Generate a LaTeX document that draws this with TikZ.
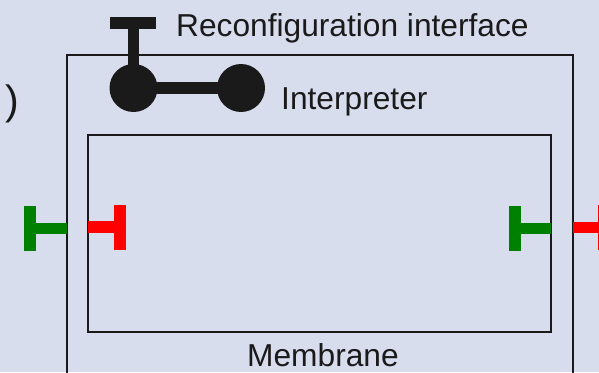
\documentclass[tikz,border=0pt]{standalone}
\usepackage{fontspec}
\setmainfont{Liberation Sans}
\definecolor{panelbg}{RGB}{216,221,238}
\definecolor{portgreen}{RGB}{0,128,0}
\definecolor{portred}{RGB}{255,0,0}
\definecolor{ink}{RGB}{26,26,26}

\begin{document}
\begin{tikzpicture}[x=1pt,y=-1pt,
  lbl/.style={font=\fontsize{31.7}{38}\selectfont, inner sep=0pt, text=ink, anchor=base west},
  box/.style={draw=ink, line width=2},
  bar/.style={line width=11.5},
  knob/.style={circle, fill=ink, minimum size=48, inner sep=0pt}]
\clip (0,0) rectangle (599,372);
\fill[panelbg] (0,0) rectangle (599,372);
% component and membrane
\draw[box] (67,55) rectangle (573,400);
\draw[box] (88,135) rectangle (551,332);
\node[lbl, font=\fontsize{41}{48}\selectfont] (paren) at (5,114) {)};
% interpreter with reconfiguration interface
\node[knob] (ctrl) at (133.5,88) {};
\node[knob] (interp) at (241,88) {};
\coordinate (reconf) at (133.5,23);
\draw[bar, ink] (ctrl.center) -- (interp.center);
\draw[bar, ink] (ctrl.center) -- (reconf);
\draw[line width=12, ink] ([xshift=-23.5]reconf) -- ([xshift=22.5]reconf);
\node[lbl] (reconftxt) at (176,36) {Reconfiguration interface};
\node[lbl] (interptxt) at (281,109) {Interpreter};
\node[lbl] (membtxt) at (247,366) {Membrane};
% ports: green outside, red inside
\coordinate (gl) at (67,228.5);  \coordinate (glt) at (30,228.5);
\coordinate (rl) at (88,227);    \coordinate (rlt) at (119.5,227);
\coordinate (gr) at (551,228.5); \coordinate (grt) at (515,228.5);
\coordinate (rr) at (573,227.5); \coordinate (rrt) at (604,227.5);
\foreach \p/\t/\c in {gl/glt/portgreen, rl/rlt/portred, gr/grt/portgreen, rr/rrt/portred}{
  \draw[bar, \c] (\p) -- (\t);
  \draw[line width=12, \c] ([yshift=-22.5]\t) -- ([yshift=22.5]\t);
}
\end{tikzpicture}
\end{document}
